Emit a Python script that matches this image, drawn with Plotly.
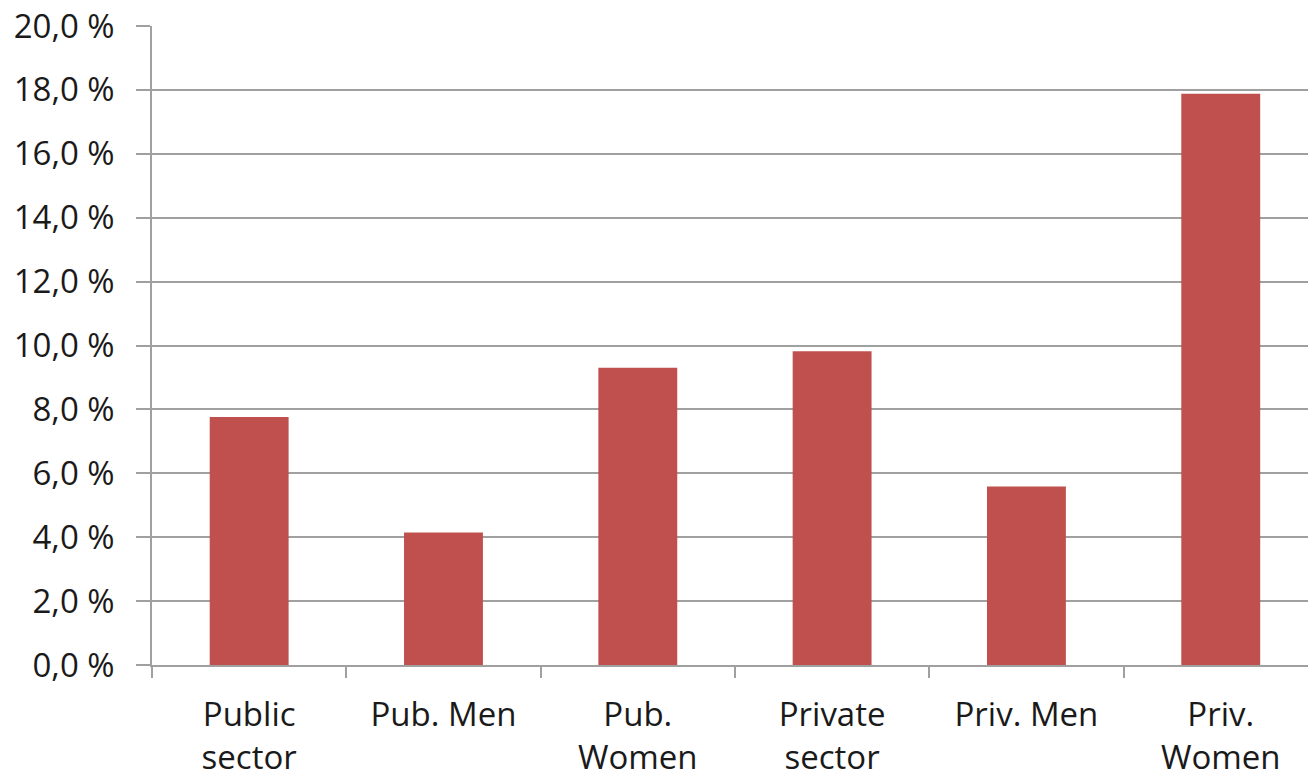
import plotly.graph_objects as go

categories = ["Public<br>sector", "Pub. Men", "Pub.<br>Women", "Private<br>sector", "Priv. Men", "Priv.<br>Women"]
values = [7.76, 4.15, 9.30, 9.82, 5.59, 17.88]
y_ticks = [0, 2, 4, 6, 8, 10, 12, 14, 16, 18, 20]
y_tick_text = [f"{v:.1f}".replace(".", ",") + " %" for v in y_ticks]

fig = go.Figure(go.Bar(
    x=categories, y=values,
    marker=dict(color="#C0504D", line=dict(width=0)),
))

font_family = "Open Sans"
grid = "#a0a0a0"

fig.update_layout(
    width=1308, height=776,
    margin=dict(l=152, r=0, t=26, b=111),
    paper_bgcolor="white", plot_bgcolor="white",
    bargap=0.594,
    showlegend=False,
    font=dict(family=font_family, size=33, color="#1a1a1a"),
)
fig.update_xaxes(
    type="category",
    range=[-0.5, 5.449],
    tickson="boundaries",
    ticks="outside", ticklen=11, tickcolor=grid, tickwidth=1.5,
    showline=True, linecolor=grid, linewidth=1.5,
    showgrid=False,
    ticklabelstandoff=20,
    automargin=False,
)
fig.update_yaxes(
    range=[0, 20],
    tickvals=y_ticks, ticktext=y_tick_text,
    ticks="outside", ticklen=14, tickcolor=grid, tickwidth=1.5,
    showline=True, linecolor=grid, linewidth=1.5,
    showgrid=True, gridcolor=grid, gridwidth=1.5,
    zeroline=False,
    ticklabelstandoff=15,
    automargin=False,
)

fig.write_html("out.html")
